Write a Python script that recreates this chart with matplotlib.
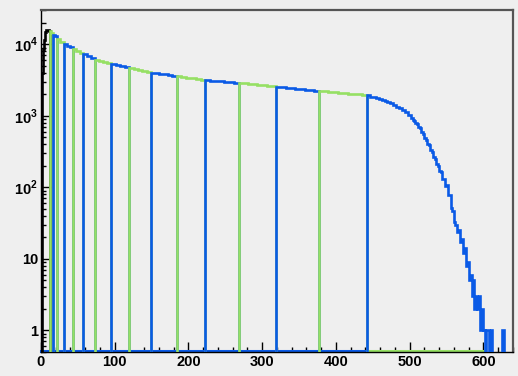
import numpy as np
import matplotlib
matplotlib.use("Agg")
import matplotlib.pyplot as plt
from matplotlib.ticker import FuncFormatter, LogLocator, MultipleLocator

plt.rcParams['font.family'] = ['Liberation Sans', 'DejaVu Sans']
plt.rcParams['mathtext.fontset'] = 'custom'
plt.rcParams['mathtext.rm'] = 'Liberation Sans:bold'
plt.rcParams['mathtext.bf'] = 'Liberation Sans:bold'

# segment boundaries (x) and colours, black first then alternating green / blue
seg_bounds = [0, 12, 16, 22, 31, 43, 57, 74, 95, 120, 149, 184, 223, 268, 319, 377, 442, 640]
seg_colors = ['black'] + ['#96e064', '#0a5ae6'] * 8

# first segment, 1-unit bins
black_counts = [0, 900, 4000, 8500, 11500, 13800, 15000, 15800, 16000, 15900, 15700, 15400]

# bins per body segment (12 .. 442)
body_nbins = [2, 2, 2, 3, 3, 3, 4, 4, 5, 6, 6, 7, 8, 9, 10]
body_counts = [
    15100, 14500,
    13650, 12900,
    11800, 10700,
    10070, 9550, 9060,
    8570, 8090, 7630,
    7210, 6810, 6410,
    6100, 5860, 5640, 5430,
    5260, 5090, 4930, 4780,
    4630, 4500, 4390, 4240, 4110,
    4030, 3940, 3880, 3800, 3720, 3660,
    3590, 3520, 3430, 3340, 3280, 3200,
    3140, 3100, 3050, 3020, 2990, 2940, 2900,
    2860, 2830, 2790, 2740, 2710, 2680, 2630, 2600,
    2550, 2510, 2480, 2420, 2400, 2370, 2320, 2280, 2250,
    2220, 2190, 2150, 2130, 2110, 2070, 2040, 2020, 1990, 1960,
]

# last segment: shoulder 442 .. 502 (4-unit bins)
tail_counts = [1930, 1860, 1820, 1750, 1710, 1660, 1610, 1570, 1510, 1430,
               1340, 1280, 1200, 1140, 1030]
# falling edge 502 .. 562 (2-unit bins)
fall_counts = [946, 880, 850, 790, 760, 705, 665, 598, 556, 495,
               462, 410, 386, 336, 312, 266, 250, 212, 201, 168,
               162, 131, 130, 104, 108, 79, 77, 52, 47, 33]
# sparse end 562 .. 640 (2-unit bins)
edge_counts = [30, 24, 25, 17, 19, 12, 14, 8, 9, 5,
               6, 3, 5, 2, 3, 2, 3, 1, 2, 1,
               0, 1, 1, 0, 1, 0, 0, 0, 0, 0,
               0, 0, 1, 0, 0, 0, 0, 0, 0]

# build edges / values per segment
segments = [(np.arange(0, 13, 1.0), np.array(black_counts, float))]
pos = 0
for i, n in enumerate(body_nbins):
    lo, hi = seg_bounds[i + 1], seg_bounds[i + 2]
    segments.append((np.linspace(lo, hi, n + 1), np.array(body_counts[pos:pos + n], float)))
    pos += n
tail_edges = np.concatenate([np.linspace(442, 502, len(tail_counts) + 1),
                             np.linspace(502, 562, len(fall_counts) + 1)[1:],
                             np.linspace(562, 640, len(edge_counts) + 1)[1:]])
segments.append((tail_edges, np.array(tail_counts + fall_counts + edge_counts, float)))

ymin, ymax = 0.5, 3.0e4

fig = plt.figure(figsize=(5.18, 3.76), dpi=100, facecolor='#efefef')
ax = fig.add_axes([0.079, 0.064, 0.911, 0.909], facecolor='#efefef')
ax.set_yscale('log')

floor = 1e-3
# zero bins lie on the bottom of the frame
n_before = len(tail_counts) + len(fall_counts)
first_zero = tail_edges[n_before + edge_counts.index(0)]
ax.plot([0, seg_bounds[16]], [ymin * 1.02] * 2, color='#0a5ae6', lw=2.2, zorder=2, clip_on=False)
ax.plot([seg_bounds[16], first_zero], [ymin * 1.02] * 2, color='#96e064', lw=2.2, zorder=2, clip_on=False)

for k, ((edges, vals), c) in enumerate(zip(segments, seg_colors)):
    v = np.where(vals > 0, vals, floor)
    ax.stairs(v, edges, baseline=floor, color=c, lw=1.9, zorder=3 + k)

ax.set_xlim(0, 640)
ax.set_ylim(ymin, ymax)

ax.xaxis.set_major_locator(MultipleLocator(100))
ax.xaxis.set_minor_locator(MultipleLocator(20))
ax.yaxis.set_major_locator(LogLocator(base=10, numticks=10))
ax.yaxis.set_minor_locator(LogLocator(base=10, subs=np.arange(2, 10), numticks=20))


def ylab(v, p):
    e = int(round(np.log10(v)))
    if e == 0:
        return '1'
    if e == 1:
        return '10'
    return r'$10^{%d}$' % e


ax.yaxis.set_major_formatter(FuncFormatter(ylab))
ax.tick_params(which='both', direction='in', top=False, right=False, labelsize=10.5, pad=2)
ax.tick_params(which='major', length=7, width=1)
ax.tick_params(which='minor', length=3.5, width=1)
for lab in ax.get_xticklabels() + ax.get_yticklabels():
    lab.set_fontweight('bold')

for s in ['left', 'bottom']:
    ax.spines[s].set_color('black')
    ax.spines[s].set_linewidth(1.0)
for s in ['top', 'right']:
    ax.spines[s].set_color('#555555')
    ax.spines[s].set_linewidth(1.6)

fig.savefig('out.png', dpi=100, facecolor=fig.get_facecolor())
